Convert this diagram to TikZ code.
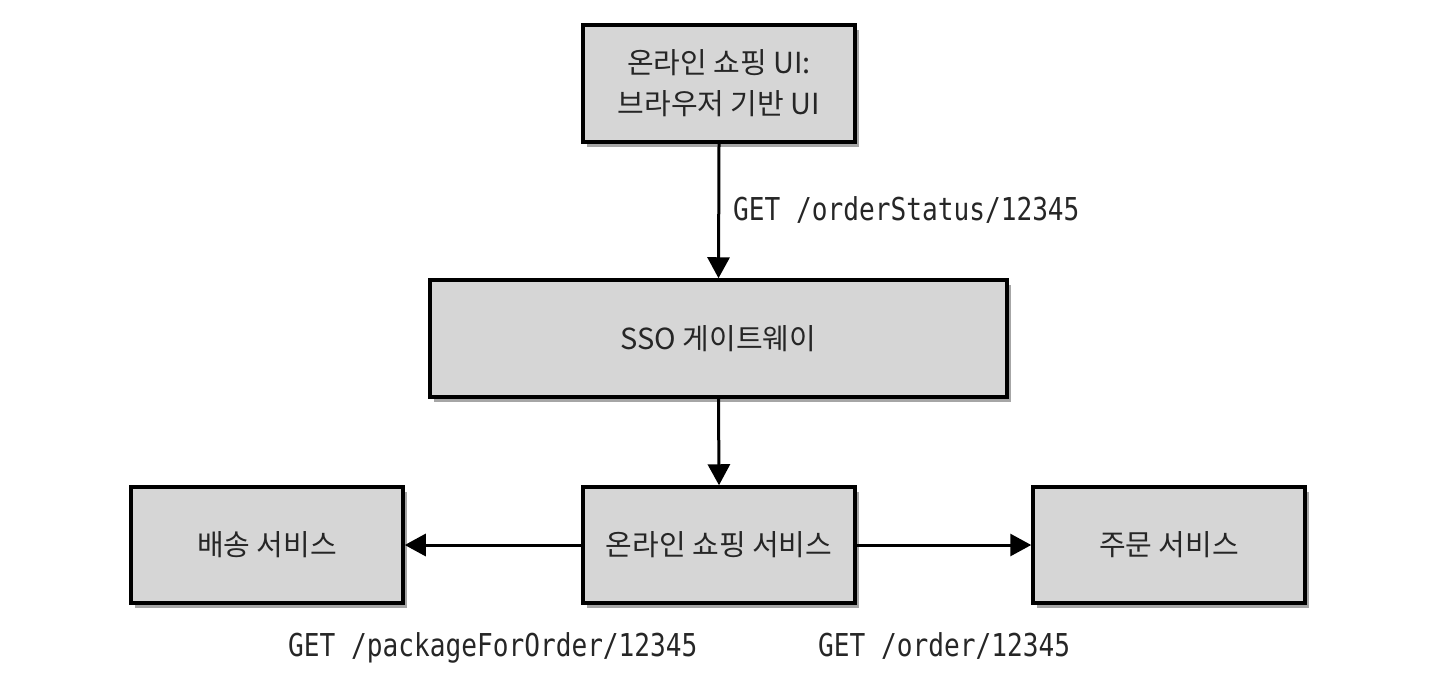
\documentclass[tikz,border=0pt]{standalone}
\usepackage{fontspec}
\setmainfont{Noto Sans CJK KR}
\newfontfamily\monofont[FakeStretch=0.83]{DejaVu Sans Mono}
\usetikzlibrary{arrows.meta,shadows}
\definecolor{boxgray}{HTML}{D6D6D6}
\definecolor{txt}{HTML}{262626}
\tikzset{
  svcbox/.style={draw=black, line width=3.5pt, fill=boxgray, text=txt,
    font=\fontsize{29}{41}\selectfont, align=center, inner sep=0pt,
    drop shadow={shadow xshift=4pt, shadow yshift=-5pt, opacity=0.35, fill=black}},
  conn/.style={line width=3pt, -{Triangle[length=21pt,width=22pt]}},
  lbl/.style={font=\monofont\fontsize{31.5}{34}\selectfont, text=txt, inner sep=0pt}
}
\begin{document}
\begin{tikzpicture}[x=1pt,y=-1pt]
\useasboundingbox (0,0) rectangle (1455,686);
\node[svcbox, minimum width=272pt, minimum height=117pt] (ui) at (719,83.5) {온라인 쇼핑 UI:\\브라우저 기반 UI};
\node[svcbox, minimum width=577pt, minimum height=117pt] (sso) at (718.5,338.5) {SSO 게이트웨이};
\node[svcbox, minimum width=272pt, minimum height=116pt] (shop) at (719,545) {온라인 쇼핑 서비스};
\node[svcbox, minimum width=272pt, minimum height=116pt] (ship) at (267,545) {배송 서비스};
\node[svcbox, minimum width=272pt, minimum height=116pt] (ord) at (1169,545) {주문 서비스};
\draw[conn] (ui.south) -- (sso.north);
\draw[conn] (sso.south) -- (shop.north);
\draw[conn] (shop.west) -- (ship.east);
\draw[conn] (shop.east) -- (ord.west);
\node[lbl, anchor=base west] (l1) at (733,220) {GET /orderStatus/12345};
\node[lbl, anchor=base west] (l2) at (288,656) {GET /packageForOrder/12345};
\node[lbl, anchor=base west] (l3) at (818,656) {GET /order/12345};
\end{tikzpicture}
\end{document}
